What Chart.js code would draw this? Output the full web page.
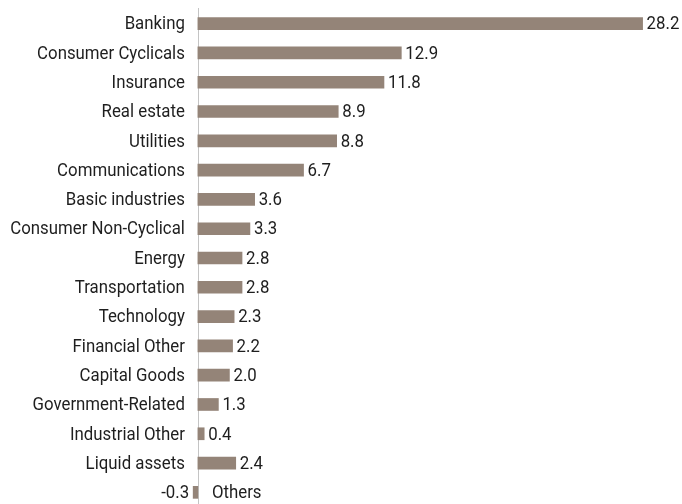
<!DOCTYPE html>
<html>
<head>
<meta charset="utf-8">
<script src="https://cdn.jsdelivr.net/npm/chart.js@4.4.0/dist/chart.umd.min.js"></script>
<style>
  html, body { margin: 0; padding: 0; background: #fff; overflow: hidden; }
  #wrap { width: 682px; height: 507px; position: relative; }
</style>
</head>
<body>
<div id="wrap"><canvas id="c"></canvas></div>
<script>
const categories = ["Banking", "Consumer Cyclicals", "Insurance", "Real estate", "Utilities",
  "Communications", "Basic industries", "Consumer Non-Cyclical", "Energy", "Transportation",
  "Technology", "Financial Other", "Capital Goods", "Government-Related", "Industrial Other",
  "Liquid assets", "Others"];
const values = [28.2, 12.9, 11.8, 8.9, 8.8, 6.7, 3.6, 3.3, 2.8, 2.8, 2.3, 2.2, 2.0, 1.3, 0.4, 2.4, -0.3];
const valueLabels = ["28.2", "12.9", "11.8", "8.9", "8.8", "6.7", "3.6", "3.3", "2.8", "2.8", "2.3", "2.2", "2.0", "1.3", "0.4", "2.4", "-0.3"];

const FONT = '19px Roboto, "Liberation Sans", sans-serif';
const SX = 0.885;
const TEXT = '#1e1e1e';

function drawText(ctx, text, x, y, align) {
  ctx.save();
  ctx.translate(x, y);
  ctx.scale(SX, 1);
  ctx.textAlign = align;
  ctx.fillText(text, 0, 0);
  ctx.restore();
}

const labelPlugin = {
  id: 'labels',
  beforeDatasetsDraw(chart) {
    const ctx = chart.ctx;
    const xs = chart.scales.x;
    const x0 = xs.getPixelForValue(0);
    ctx.save();
    ctx.strokeStyle = '#c4c4c4';
    ctx.lineWidth = 1;
    ctx.beginPath();
    ctx.moveTo(Math.round(x0) + 0.5, chart.chartArea.top - 1);
    ctx.lineTo(Math.round(x0) + 0.5, chart.chartArea.bottom);
    ctx.stroke();
    ctx.restore();
  },
  afterDatasetsDraw(chart) {
    const ctx = chart.ctx;
    const meta = chart.getDatasetMeta(0);
    const xs = chart.scales.x;
    const x0 = xs.getPixelForValue(0);
    ctx.save();
    ctx.font = FONT;
    ctx.fillStyle = TEXT;
    ctx.textBaseline = 'middle';
    meta.data.forEach((bar, i) => {
      const v = values[i];
      const y = bar.y + 1;
      if (v >= 0) {
        drawText(ctx, categories[i], x0 - 13, y, 'right');
        drawText(ctx, valueLabels[i], bar.x + 4, y, 'left');
      } else {
        drawText(ctx, categories[i], x0 + 14, y, 'left');
        drawText(ctx, valueLabels[i], bar.x - 4, y, 'right');
      }
    });
    ctx.restore();
  }
};

new Chart(document.getElementById('c'), {
  type: 'bar',
  data: {
    labels: categories,
    datasets: [{
      data: values,
      backgroundColor: '#948478',
      borderWidth: 0,
      barThickness: 12
    }]
  },
  options: {
    indexAxis: 'y',
    responsive: true,
    maintainAspectRatio: false,
    animation: false,
    layout: { padding: { left: 190, right: 11, top: 9, bottom: 0 } },
    plugins: { legend: { display: false }, tooltip: { enabled: false } },
    scales: {
      x: { display: false, min: -0.5, max: 30 },
      y: { display: false }
    }
  },
  plugins: [labelPlugin]
});
</script>
</body>
</html>
